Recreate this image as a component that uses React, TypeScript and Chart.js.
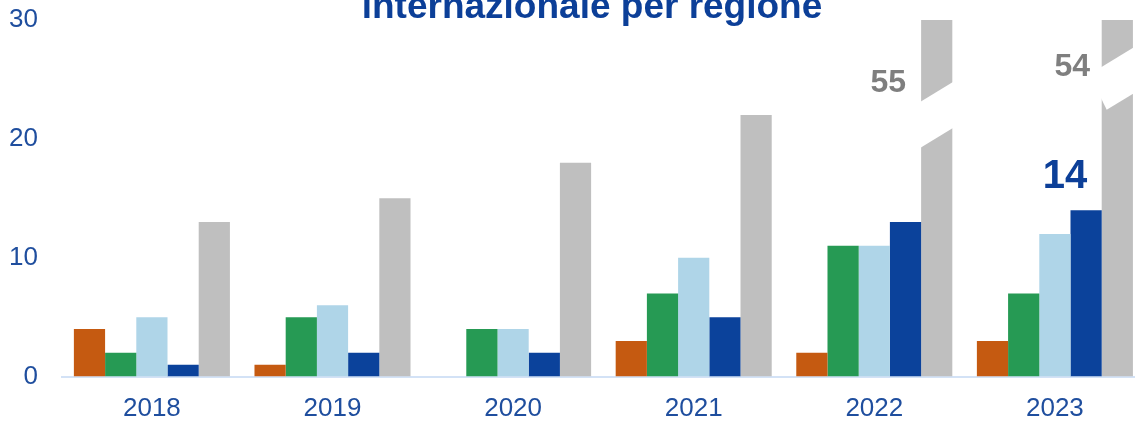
import React, { useEffect, useRef } from "react";
import { Chart, registerables } from "chart.js";

Chart.register(...registerables);

// ---- data ----
const years = ["2018", "2019", "2020", "2021", "2022", "2023"];
const seriesOrange = [4, 1, 0, 3, 2, 3];
const seriesGreen = [2, 5, 4, 7, 11, 7];
const seriesLightBlue = [5, 6, 4, 10, 11, 12];
const seriesDarkBlue = [1, 2, 2, 5, 13, 14];
const seriesGray = [13, 15, 18, 22, 55, 54];
const yTicks = [0, 10, 20, 30];
const titleText = "internazionale per regione";

// ---- annotations (value callouts & axis breaks) ----
const callouts = [
  { dataset: 4, index: 4, text: "55", dx: -48.5, dy: 72, size: 32, color: "#7F7F7F" },
  { dataset: 4, index: 5, text: "54", dx: -45, dy: 56, size: 32, color: "#7F7F7F" },
  { dataset: 3, index: 5, text: "14", dx: -21, dy: -22, size: 40, color: "#0C3F98" },
];
const breaks = [
  { dataset: 4, index: 4, at: 23.1, notch: 0 },
  { dataset: 4, index: 5, at: 26.0, notch: 5 },
];

const FONT = '"Liberation Sans", Arial, sans-serif';
const TICK_COLOR = "#1F4E9E";

const annotationPlugin = {
  id: "annotations",
  afterDatasetsDraw(chart: any) {
    const ctx = chart.ctx;
    const yScale = chart.scales.y;
    const area = chart.chartArea;
    ctx.save();
    // breaks
    ctx.fillStyle = "#ffffff";
    breaks.forEach((b) => {
      const bar = chart.getDatasetMeta(b.dataset).data[b.index];
      const { x, width } = bar.getProps(["x", "width"], true);
      const l = x - width / 2 - 1;
      const r = x + width / 2 + 1;
      const top = yScale.getPixelForValue(b.at);
      const slope = 0.613;
      const rise = (r - l) * slope;
      const thick = 46;
      ctx.beginPath();
      ctx.moveTo(l, top);
      ctx.lineTo(r, top - rise);
      ctx.lineTo(r, top - rise + thick);
      if (b.notch > 0) {
        ctx.lineTo(l + 1 + b.notch, top + thick - (1 + b.notch) * slope);
        ctx.lineTo(l, top + thick - 16);
      } else {
        ctx.lineTo(l, top + thick);
      }
      ctx.closePath();
      ctx.fill();
    });
    // callouts
    ctx.textAlign = "center";
    ctx.textBaseline = "alphabetic";
    callouts.forEach((c) => {
      const bar = chart.getDatasetMeta(c.dataset).data[c.index];
      const { x, y } = bar.getProps(["x", "y"], true);
      const anchorY = Math.max(y, area.top);
      ctx.font = `bold ${c.size}px ${FONT}`;
      ctx.fillStyle = c.color;
      ctx.fillText(c.text, x + c.dx, anchorY + c.dy);
    });
    ctx.restore();
  },
};

export default function App() {
  const ref = useRef<HTMLCanvasElement>(null);

  useEffect(() => {
    if (!ref.current) return;
    const chart = new Chart(ref.current, {
      type: "bar",
      data: {
        labels: years,
        datasets: [
          { label: "A", data: seriesOrange, backgroundColor: "#C55A11" },
          { label: "B", data: seriesGreen, backgroundColor: "#269A54" },
          { label: "C", data: seriesLightBlue, backgroundColor: "#AFD5E8" },
          { label: "D", data: seriesDarkBlue, backgroundColor: "#0B429B" },
          { label: "E", data: seriesGray, backgroundColor: "#BFBFBF" },
        ],
      },
      options: {
        responsive: false,
        maintainAspectRatio: false,
        devicePixelRatio: 1,
        animation: false,
        datasets: {
          bar: {
            barPercentage: 1,
            categoryPercentage: 0.864,
            borderWidth: 0,
            clip: 0,
          } as any,
        },
        layout: { padding: { left: 0, right: 6, top: 0, bottom: 9.4 } },
        plugins: {
          legend: { display: false },
          tooltip: { enabled: false },
          title: {
            display: true,
            text: titleText,
            color: "#0C3F98",
            font: { family: FONT, size: 37, weight: "bold", lineHeight: 1.2 },
            padding: { top: 15.3, bottom: -9.7 },
          },
        },
        scales: {
          x: {
            grid: { display: false, drawTicks: false },
            border: { display: true, color: "#D3E2F6", width: 2 },
            ticks: {
              color: TICK_COLOR,
              font: { family: FONT, size: 26 },
              padding: 16.4,
            },
          },
          y: {
            min: 0,
            max: 30,
            grid: { display: false, drawTicks: false },
            border: { display: false },
            afterFit: (scale: any) => {
              scale.width = 61.6;
            },
            afterBuildTicks: (scale: any) => {
              scale.ticks = yTicks.map((v) => ({ value: v }));
            },
            ticks: {
              color: TICK_COLOR,
              font: { family: FONT, size: 26 },
              padding: 23.6,
            },
          },
          yPad: {
            type: "linear",
            position: "right",
            display: true,
            grid: { display: false, drawTicks: false },
            border: { display: false },
            ticks: { display: false },
            afterFit: (scale: any) => {
              scale.width = 38.8;
            },
          },
        },
      },
      plugins: [annotationPlugin],
    });
    return () => chart.destroy();
  }, []);

  return (
    <div
      style={{
        position: "fixed",
        left: 0,
        top: 0,
        width: 1135,
        height: 422,
        overflow: "hidden",
        background: "#ffffff",
      }}
    >
      <canvas
        ref={ref}
        width={1190}
        height={480}
        style={{ position: "absolute", left: 0, top: -30, width: 1190, height: 480 }}
      />
    </div>
  );
}
